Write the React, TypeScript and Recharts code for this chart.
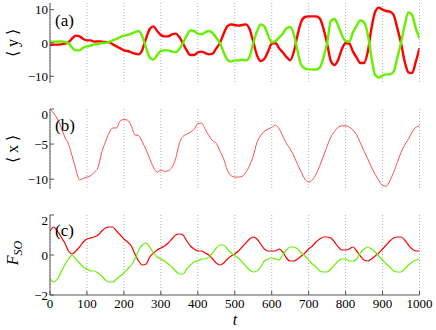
import React from "react";
import { LineChart, Line, XAxis, YAxis, CartesianGrid } from "recharts";

// sampling grid, t = 0, 10, ..., 1000
const times = Array.from({ length: 101 }, (_, i) => i * 10);
const timeTicks = [0, 100, 200, 300, 400, 500, 600, 700, 800, 900, 1000];

// panel (a): <y>
const yRed = [
  -0.6, -0.5, -0.5, -0.4, -0.2, 0.2, 1.4, 2.2, 2.0, 1.2,
  0.8, 0.8, 0.4, 0.5, 0.4, 0.3, 0.2, -0.4, -1.0, -1.6,
  -2.2, -2.4, -2.8, -3.2, -3.4, -2.0, 1.4, 4.2, 5.0, 3.6,
  2.4, 2.0, 2.0, 2.6, 2.8, 1.8, -0.2, -2.2, -3.6, -3.6,
  -2.8, -2.6, -3.0, -3.4, -3.2, -1.6, 0.0, 2.8, 5.0, 5.6,
  5.4, 5.2, 5.4, 5.6, 4.2, 0.4, -3.6, -5.4, -4.8, -2.6,
  -0.2, 0.0, -1.6, -2.8, -4.2, -5.2, -2.6, 2.4, 6.4, 7.8,
  8.0, 8.0, 8.0, 7.4, 4.4, -0.2, -5.4, -6.6, -5.0, -1.8,
  0.0, -0.2, -2.6, -4.4, -6.0, -6.0, -2.6, 4.4, 9.4, 10.6,
  10.0, 9.6, 9.4, 8.4, 4.4, 0.0, -5.6, -8.8, -9.0, -5.6,
  -1.6,
];
const yGreen = [
  0.4, 0.4, 0.4, 0.5, 0.3, -0.1, -1.4, -2.2, -2.2, -1.4,
  -1.0, -0.8, -0.4, -0.3, 0.0, 0.0, 0.3, 0.8, 1.2, 1.8,
  2.2, 2.4, 2.8, 3.2, 3.6, 1.9, -1.4, -4.4, -5.0, -3.6,
  -2.4, -2.2, -2.2, -2.6, -2.8, -1.8, 0.0, 2.2, 3.8, 3.6,
  2.8, 2.6, 3.2, 3.6, 3.0, 1.6, 0.0, -2.8, -5.0, -5.6,
  -5.2, -5.2, -5.0, -5.2, -4.2, 0.0, 3.4, 5.6, 5.0, 2.4,
  0.2, 0.6, 1.6, 2.8, 4.4, 4.8, 2.6, -2.4, -6.6, -7.6,
  -7.9, -7.9, -8.0, -7.4, -4.4, 0.0, 6.6, 7.2, 5.2, 2.4,
  0.6, 0.4, 3.2, 5.2, 6.8, 6.2, 2.6, -4.4, -9.6, -10.4,
  -9.8, -9.4, -9.4, -8.6, -4.4, 0.0, 5.4, 9.2, 8.4, 4.4,
  1.4,
];

// panel (b): <x>
const xMean = [
  0, -0.6, -1.4, -2.6, -4.0, -5.0, -6.7, -8.6, -10.1, -9.9,
  -9.7, -9.5, -9.0, -8.3, -6.2, -4.7, -3.4, -2.7, -2.7, -1.7,
  -1.5, -1.6, -2.4, -3.7, -3.8, -4.7, -5.8, -7.1, -8.3, -9.0,
  -8.7, -8.9, -8.8, -8.3, -7.1, -4.9, -3.9, -3.6, -3.3, -2.9,
  -2.1, -2.0, -2.9, -3.8, -4.5, -4.9, -6.0, -7.1, -8.7, -9.5,
  -9.7, -9.7, -9.6, -9.0, -8.1, -6.7, -4.8, -3.8, -3.2, -2.9,
  -2.6, -2.3, -2.8, -3.9, -4.9, -5.7, -6.7, -7.9, -9.0, -10.0,
  -10.4, -10.1, -9.3, -8.1, -6.7, -5.3, -4.0, -3.2, -2.6, -2.4,
  -2.4, -2.6, -3.0, -3.7, -4.8, -6.0, -7.1, -8.3, -9.3, -10.2,
  -10.9, -11.0, -10.2, -9.0, -7.6, -6.2, -5.1, -4.3, -3.3, -2.6,
  -2.4,
];

// panel (c): F_SO
const fRed = [
  1.2, 1.4, 1.2, 0.9, 0.6, 0.2, 0.05, 0.2, 0.4, 0.65,
  0.8, 0.85, 0.9, 1.0, 1.2, 1.35, 1.4, 1.4, 1.2, 1.0,
  0.8, 0.65, 0.45, 0.05, -0.3, -0.5, -0.45, -0.1, 0.1, 0.25,
  0.35, 0.45, 0.6, 0.8, 1.0, 1.05, 1.0, 0.7, 0.45, 0.3,
  0.2, 0.2, 0.1, 0.0, -0.2, -0.4, -0.5, -0.4, -0.2, -0.05,
  0.05, 0.2, 0.4, 0.6, 0.8, 0.9, 0.8, 0.55, 0.3, 0.2,
  0.2, 0.2, 0.3, 0.15, -0.15, -0.3, -0.3, -0.2, -0.05, 0.1,
  0.3, 0.45, 0.65, 0.8, 0.9, 0.9, 0.85, 0.65, 0.4, 0.25,
  0.25, 0.3, 0.4, 0.2, -0.05, -0.25, -0.3, -0.2, -0.05, 0.1,
  0.3, 0.5, 0.7, 0.85, 0.9, 0.9, 0.75, 0.5, 0.3, 0.2,
  0.2,
];
const fGreen = [
  -1.2, -1.35, -1.2, -0.85, -0.5, -0.2, 0.0, -0.2, -0.4, -0.6,
  -0.7, -0.8, -0.8, -0.9, -1.05, -1.25, -1.35, -1.35, -1.2, -1.05,
  -0.9, -0.7, -0.5, -0.2, 0.25, 0.5, 0.6, 0.4, 0.1, -0.1,
  -0.2, -0.3, -0.45, -0.6, -0.8, -0.95, -0.95, -0.7, -0.5, -0.35,
  -0.3, -0.2, -0.2, -0.1, 0.1, 0.35, 0.5, 0.5, 0.3, 0.1,
  -0.02, -0.15, -0.35, -0.55, -0.75, -0.85, -0.8, -0.6, -0.3, -0.2,
  -0.15, -0.2, -0.25, 0.0, 0.25, 0.4, 0.4, 0.3, 0.1, -0.05,
  -0.25, -0.45, -0.6, -0.8, -0.85, -0.85, -0.7, -0.5, -0.3, -0.2,
  -0.2, -0.3, -0.3, -0.2, 0.1, 0.3, 0.4, 0.3, 0.15, -0.05,
  -0.25, -0.45, -0.6, -0.8, -0.85, -0.85, -0.7, -0.5, -0.35, -0.25,
  -0.2,
];

const FONT = '"Liberation Serif", "Times New Roman", serif';
const FRAME = "#555";
const RED = "#ff0000";
const GREEN = "#66f000";

const minus = (v: number) => String(v).replace("-", "\u2212");
const blank = () => "";

const rowsA = times.map((t, i) => ({ t, red: yRed[i], green: yGreen[i] }));
const rowsB = times.map((t, i) => ({ t, x: xMean[i] }));
const rowsC = times.map((t, i) => ({ t, red: fRed[i], green: fGreen[i] }));

type Series = { key: string; color: string; width: number };

function Panel({
  top,
  height,
  data,
  series,
  domain,
  yTicks,
  showX,
}: {
  top: number;
  height: number;
  data: any[];
  series: Series[];
  domain: [number, number];
  yTicks: number[];
  showX: boolean;
}) {
  return (
    <LineChart
      width={436}
      height={height}
      data={data}
      margin={{ top: 3, right: 16.5, bottom: showX ? 0 : 3, left: 0 }}
      style={{ position: "absolute", left: 0, top }}
    >
      <CartesianGrid xAxisId="b" yAxisId="l" horizontal={false} stroke="#b0b0b0" strokeDasharray="1 2" />
      <XAxis
        xAxisId="b"
        dataKey="t"
        type="number"
        domain={[0, 1000]}
        ticks={timeTicks}
        height={showX ? 35 : 0}
        tick={{ fontFamily: FONT, fontSize: 13, fill: "#000" }}
        tickFormatter={showX ? undefined : blank}
        tickSize={-4}
        tickMargin={8}
        stroke={FRAME}
        allowDataOverflow
      />
      <XAxis
        xAxisId="tp"
        orientation="top"
        dataKey="t"
        type="number"
        domain={[0, 1000]}
        ticks={timeTicks}
        height={0}
        tick={false}
        tickSize={-4}
        stroke={FRAME}
      />
      <YAxis
        yAxisId="l"
        width={50}
        type="number"
        domain={domain}
        ticks={yTicks}
        tick={{ fontFamily: FONT, fontSize: 13, fill: "#000" }}
        tickFormatter={minus}
        tickSize={-4}
        tickMargin={6}
        stroke={FRAME}
        allowDataOverflow
      />
      <YAxis
        yAxisId="r"
        orientation="right"
        width={0}
        type="number"
        domain={domain}
        ticks={yTicks}
        tick={false}
        tickSize={-4}
        stroke={FRAME}
        allowDataOverflow
      />
      {series.map((s) => (
        <Line
          key={s.key}
          xAxisId="b"
          yAxisId="l"
          dataKey={s.key}
          type="monotone"
          stroke={s.color}
          strokeWidth={s.width}
          dot={false}
          isAnimationActive={false}
        />
      ))}
    </LineChart>
  );
}

function SideTitle({ cy, children }: { cy: number; children: React.ReactNode }) {
  return (
    <text
      x={18}
      y={cy}
      transform={`rotate(-90 18 ${cy})`}
      textAnchor="middle"
      fontFamily={FONT}
      fontSize={16}
      fill="#000"
    >
      {children}
    </text>
  );
}

export default function App() {
  return (
    <div style={{ position: "fixed", left: 0, top: 0, width: 436, height: 330, background: "#fff" }}>
      <Panel
        top={0}
        height={86}
        data={rowsA}
        series={[
          { key: "red", color: RED, width: 2.4 },
          { key: "green", color: GREEN, width: 2.4 },
        ]}
        domain={[-12, 12]}
        yTicks={[-10, 0, 10]}
        showX={false}
      />
      <Panel
        top={106}
        height={86}
        data={rowsB}
        series={[{ key: "x", color: "#ff4d4d", width: 1 }]}
        domain={[-11.4, 0]}
        yTicks={[-10, -5, 0]}
        showX={false}
      />
      <Panel
        top={212}
        height={118}
        data={rowsC}
        series={[
          { key: "red", color: RED, width: 1.2 },
          { key: "green", color: GREEN, width: 1.2 },
        ]}
        domain={[-2, 2]}
        yTicks={[-2, 0, 2]}
        showX={true}
      />
      <svg width={436} height={330} style={{ position: "absolute", left: 0, top: 0, pointerEvents: "none" }}>
        <SideTitle cy={43}>{"\u27E8 y \u27E9"}</SideTitle>
        <SideTitle cy={149}>{"\u27E8 x \u27E9"}</SideTitle>
        <SideTitle cy={253}>
          <tspan fontStyle="italic">F</tspan>
          <tspan fontStyle="italic" fontSize={12} dy={4}>SO</tspan>
        </SideTitle>
        <text x={55} y={26} fontFamily={FONT} fontSize={17} fill="#000">(a)</text>
        <text x={55} y={131} fontFamily={FONT} fontSize={17} fill="#000">(b)</text>
        <text x={55} y={236} fontFamily={FONT} fontSize={17} fill="#000">(c)</text>
        <text x={235} y={325} textAnchor="middle" fontFamily={FONT} fontStyle="italic" fontSize={16} fill="#000">t</text>
      </svg>
    </div>
  );
}
